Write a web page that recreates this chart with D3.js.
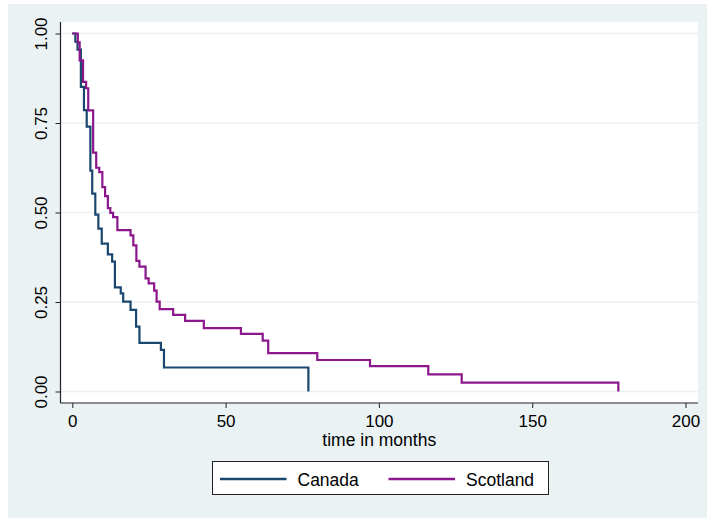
<!DOCTYPE html>
<html>
<head>
<meta charset="utf-8">
<script src="https://cdn.jsdelivr.net/npm/d3@7"></script>
<style>
  html, body { margin: 0; padding: 0; background: #ffffff; }
  svg text { font-family: "Liberation Sans", Arial, Helvetica, sans-serif; fill: #000; }
</style>
</head>
<body>
<svg id="chart" width="707" height="518"></svg>
<script>
// Kaplan-Meier survival estimates by country (time in months)
const canadaTimes    = [1.0, 1.7, 2.8, 3.8, 4.7, 5.9, 6.5, 7.5, 8.5, 9.6, 11.6, 13.0, 13.9, 15.8, 16.6, 19.0, 20.8, 21.9, 28.9, 29.9, 77.0];
const canadaSurv     = [0.977, 0.955, 0.851, 0.786, 0.740, 0.617, 0.553, 0.494, 0.455, 0.413, 0.383, 0.363, 0.291, 0.274, 0.251, 0.228, 0.181, 0.136, 0.116, 0.067, 0.0];
const scotlandTimes  = [1.8, 2.4, 3.5, 4.5, 5.2, 6.8, 7.8, 8.8, 9.8, 10.7, 11.6, 12.4, 13.3, 14.7, 19.0, 19.9, 20.9, 21.9, 23.9, 24.9, 26.7, 27.5, 28.5, 32.9, 36.8, 42.9, 55.0, 62.1, 63.9, 79.9, 97.1, 116.1, 127.0, 178.1];
const scotlandSurv   = [0.975, 0.925, 0.865, 0.847, 0.785, 0.667, 0.625, 0.613, 0.571, 0.546, 0.512, 0.499, 0.487, 0.451, 0.436, 0.408, 0.365, 0.349, 0.316, 0.302, 0.282, 0.251, 0.230, 0.214, 0.197, 0.177, 0.161, 0.142, 0.107, 0.088, 0.071, 0.048, 0.025, 0.0];

const seriesNames  = ["Canada", "Scotland"];
const seriesColors = ["#1a476f", "#8c168c"];
const xTicks = [0, 50, 100, 150, 200];
const yTicks = [0, 0.25, 0.5, 0.75, 1];
const yTickLabels = ["0.00", "0.25", "0.50", "0.75", "1.00"];
const xTitle = "time in months";

const svg = d3.select("#chart");
const W = 707, H = 518;

// graph region background
svg.append("rect").attr("x", 8).attr("y", 4).attr("width", W - 8).attr("height", H - 4)
  .attr("fill", "#eaf2f3");

// plot region
const plot = { left: 60.5, top: 22, right: 698, bottom: 403 };
svg.append("rect").attr("x", plot.left).attr("y", plot.top)
  .attr("width", plot.right - plot.left).attr("height", plot.bottom - plot.top)
  .attr("fill", "#ffffff");

const x = d3.scaleLinear().domain([0, 200]).range([72.3, 685.5]);
const y = d3.scaleLinear().domain([0, 1]).range([391.5, 33.5]);

// horizontal grid lines
svg.append("g").selectAll("line").data(yTicks).join("line")
  .attr("x1", plot.left).attr("x2", plot.right)
  .attr("y1", d => y(d)).attr("y2", d => y(d))
  .attr("stroke", "#eaf2f3").attr("stroke-width", 1.5);

// survival curves
const line = d3.line().x(d => x(d[0])).y(d => y(d[1])).curve(d3.curveStepAfter);
const series = [
  { name: seriesNames[0], color: seriesColors[0], pts: [[0, 1]].concat(canadaTimes.map((t, i) => [t, canadaSurv[i]])) },
  { name: seriesNames[1], color: seriesColors[1], pts: [[0, 1]].concat(scotlandTimes.map((t, i) => [t, scotlandSurv[i]])) }
];
svg.append("g").selectAll("path").data(series).join("path")
  .attr("d", d => line(d.pts))
  .attr("fill", "none").attr("stroke", d => d.color)
  .attr("stroke-width", 2.2).attr("stroke-linejoin", "miter");

// y axis
const yAxis = d3.axisLeft(y).tickValues(yTicks).tickSize(5).tickPadding(0)
  .tickFormat((d, i) => yTickLabels[i]);
const gy = svg.append("g").attr("transform", `translate(${plot.left},0)`).call(yAxis);
gy.select(".domain").attr("d", `M0,${plot.top}V${plot.bottom}`).attr("stroke", "#222").attr("stroke-width", 1.2);
gy.selectAll(".tick line").attr("stroke", "#222").attr("stroke-width", 1);
gy.selectAll(".tick text")
  .attr("x", null).attr("dy", null)
  .attr("text-anchor", "middle")
  .attr("transform", "translate(-13.5,0) rotate(-90)")
  .attr("y", 0)
  .style("font-size", "17px");

// x axis
const xAxis = d3.axisBottom(x).tickValues(xTicks).tickSize(5).tickPadding(0).tickFormat(d3.format("d"));
const gx = svg.append("g").attr("transform", `translate(0,${plot.bottom})`).call(xAxis);
gx.select(".domain").attr("d", `M${plot.left},0H${plot.right}`).attr("stroke", "#222").attr("stroke-width", 1.2);
gx.selectAll(".tick line").attr("stroke", "#222").attr("stroke-width", 1);
gx.selectAll(".tick text").attr("dy", null).attr("y", 23.5).style("font-size", "17px");

svg.append("text").attr("x", (plot.left + plot.right) / 2).attr("y", 446)
  .attr("text-anchor", "middle").style("font-size", "17.5px").text(xTitle);

// legend
const leg = svg.append("g");
leg.append("rect").attr("x", 212.5).attr("y", 461.5).attr("width", 336).attr("height", 33)
  .attr("fill", "#ffffff").attr("stroke", "#222").attr("stroke-width", 1);
const legX = [220, 388.5];
series.forEach((s, i) => {
  leg.append("line").attr("x1", legX[i]).attr("x2", legX[i] + 66.5)
    .attr("y1", 479).attr("y2", 479).attr("stroke", s.color).attr("stroke-width", 2.4);
  leg.append("text").attr("x", legX[i] + 77.5).attr("y", 485.5)
    .style("font-size", "17.5px").text(s.name);
});
</script>
</body>
</html>
